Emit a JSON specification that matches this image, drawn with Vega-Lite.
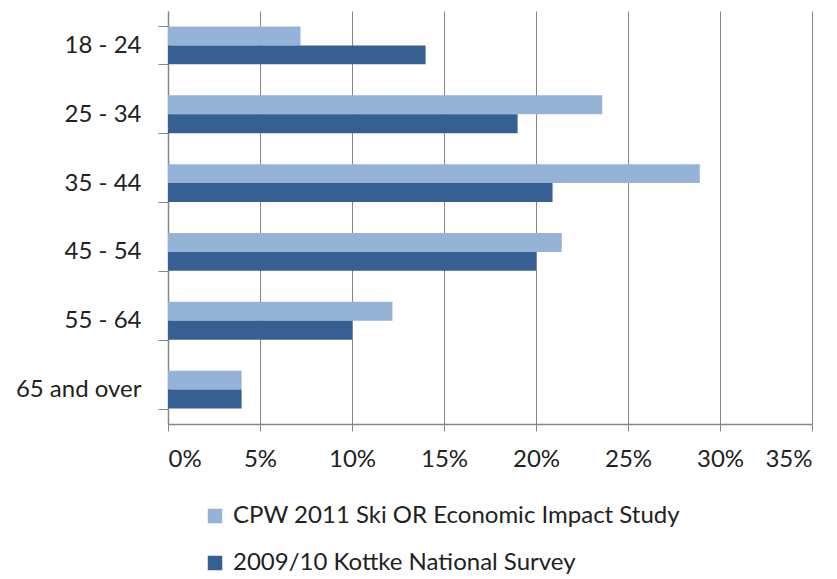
{
  "$schema": "https://vega.github.io/schema/vega-lite/v6.json",
  "autosize": {"type": "none"},
  "width": 644,
  "height": 413,
  "padding": {"left": 168, "top": 11, "right": 25, "bottom": 155},
  "background": "white",
  "config": {
    "font": "Lato",
    "view": {"stroke": null},
    "axis": {"labelFont": "Lato", "labelColor": "#222222", "domainColor": "#868686", "tickColor": "#868686", "gridColor": "#868686"}
  },
  "data": {
    "values": [
      {"age": "18 - 24", "series": "CPW 2011 Ski OR Economic Impact Study", "value": 0.072},
      {"age": "18 - 24", "series": "2009/10 Kottke National Survey", "value": 0.14},
      {"age": "25 - 34", "series": "CPW 2011 Ski OR Economic Impact Study", "value": 0.236},
      {"age": "25 - 34", "series": "2009/10 Kottke National Survey", "value": 0.19},
      {"age": "35 - 44", "series": "CPW 2011 Ski OR Economic Impact Study", "value": 0.289},
      {"age": "35 - 44", "series": "2009/10 Kottke National Survey", "value": 0.209},
      {"age": "45 - 54", "series": "CPW 2011 Ski OR Economic Impact Study", "value": 0.214},
      {"age": "45 - 54", "series": "2009/10 Kottke National Survey", "value": 0.20},
      {"age": "55 - 64", "series": "CPW 2011 Ski OR Economic Impact Study", "value": 0.122},
      {"age": "55 - 64", "series": "2009/10 Kottke National Survey", "value": 0.10},
      {"age": "65 and over", "series": "CPW 2011 Ski OR Economic Impact Study", "value": 0.04},
      {"age": "65 and over", "series": "2009/10 Kottke National Survey", "value": 0.04}
    ]
  },
  "mark": {"type": "bar"},
  "encoding": {
    "y": {
      "field": "age", "type": "nominal", "title": null,
      "sort": ["18 - 24", "25 - 34", "35 - 44", "45 - 54", "55 - 64", "65 and over"],
      "scale": {"paddingInner": 0.45, "paddingOuter": 0.225},
      "axis": {"tickBand": "extent", "tickSize": 10, "labelPadding": 17, "labelFontSize": 24, "labelLimit": 0, "grid": false, "domainWidth": 1.5}
    },
    "yOffset": {
      "field": "series", "type": "nominal",
      "sort": ["CPW 2011 Ski OR Economic Impact Study", "2009/10 Kottke National Survey"]
    },
    "x": {
      "field": "value", "type": "quantitative", "title": null,
      "scale": {"domain": [0, 0.35], "nice": false},
      "axis": {"format": ".0%", "values": [0, 0.05, 0.1, 0.15, 0.2, 0.25, 0.3, 0.35], "tickSize": 7, "labelPadding": 16, "labelFontSize": 24, "grid": true, "gridWidth": 1, "domainWidth": 1.5}
    },
    "color": {
      "field": "series", "type": "nominal",
      "sort": ["CPW 2011 Ski OR Economic Impact Study", "2009/10 Kottke National Survey"],
      "scale": {"range": ["#95B3D7", "#366092"]},
      "legend": {
        "title": null, "orient": "none", "legendX": 35, "legendY": 493,
        "direction": "vertical", "symbolType": "square", "symbolSize": 210,
        "labelFontSize": 24, "labelFont": "Lato", "labelColor": "#222222", "labelLimit": 0, "rowPadding": 23, "labelOffset": 6, "symbolStrokeWidth": 0
      }
    }
  }
}
